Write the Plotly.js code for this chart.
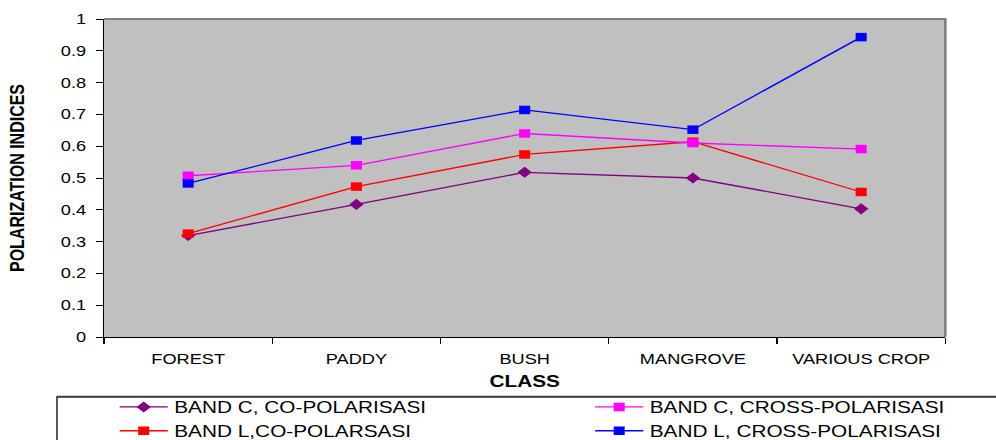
<!DOCTYPE html>
<html>
<head>
<meta charset="utf-8">
<script src="https://cdn.plot.ly/plotly-3.0.1.min.js"></script>
<style>
  html, body { margin: 0; padding: 0; background: #ffffff; overflow: hidden; }
  /* the chart is laid out narrow and widened horizontally */
  #chart { width: 766px; height: 440px; transform: scaleX(1.30026); transform-origin: 0 0; }
</style>
</head>
<body>
<div id="chart"></div>
<script>
// Land-cover classes along the x axis
const classes = ["FOREST", "PADDY", "BUSH", "MANGROVE", "VARIOUS CROP"];

// Polarization indices per band / polarization
const bandCCo    = [0.319, 0.417, 0.518, 0.500, 0.403];
const bandCCross = [0.507, 0.540, 0.640, 0.610, 0.591];
const bandLCo    = [0.325, 0.473, 0.574, 0.614, 0.456];
const bandLCross = [0.483, 0.618, 0.714, 0.652, 0.943];

const seriesNames = [
  "BAND C, CO-POLARISASI",
  "BAND L,CO-POLARSASI",
  "BAND C, CROSS-POLARISASI",
  "BAND L, CROSS-POLARISASI"
];

const yTicks = [0, 0.1, 0.2, 0.3, 0.4, 0.5, 0.6, 0.7, 0.8, 0.9, 1];
const yTickText = ["0", "0.1", "0.2", "0.3", "0.4", "0.5", "0.6", "0.7", "0.8", "0.9", "1"];

function series(name, values, color, symbol, size, legendId) {
  return {
    type: "scatter",
    mode: "lines+markers",
    name: name,
    legend: legendId,
    x: classes,
    y: values,
    line: { color: color, width: 1.3 },
    marker: { color: color, symbol: symbol, size: size, line: { width: 0 } },
    cliponaxis: false
  };
}

const traces = [
  series(seriesNames[0], bandCCo, "#800080", "diamond", 8.5, "legend"),
  series(seriesNames[1], bandLCo, "#ff0000", "square", 8.5, "legend"),
  series(seriesNames[2], bandCCross, "#ff00ff", "square", 8.5, "legend2"),
  series(seriesNames[3], bandLCross, "#0000ff", "square", 8.5, "legend2")
];

const font = "Arial, 'Liberation Sans', sans-serif";

// each legend column is a horizontal legend whose wide entries wrap one per row
function legendBox(x, entryWidth) {
  return {
    orientation: "h",
    xref: "container",
    yref: "container",
    x: x,
    xanchor: "left",
    y: 0.1135,
    yanchor: "top",
    itemwidth: 37,
    entrywidth: entryWidth,
    entrywidthmode: "pixels",
    bgcolor: "rgba(0,0,0,0)",
    borderwidth: 0,
    font: { family: font, size: 16, color: "#000000" },
    tracegroupgap: 0
  };
}

const layout = {
  width: 766,
  height: 440,
  margin: { l: 80, r: 39, t: 19, b: 103 },
  paper_bgcolor: "#ffffff",
  plot_bgcolor: "#c0c0c0",
  font: { family: font, color: "#000000", size: 14 },
  showlegend: true,
  legend: legendBox(0.1136, 330),
  legend2: legendBox(0.591, 340),
  xaxis: {
    type: "category",
    range: [-0.5, 4.5],
    automargin: false,
    tickangle: 0,
    showgrid: false,
    zeroline: false,
    showline: true,
    linecolor: "#000000",
    linewidth: 1,
    ticks: "outside",
    tickson: "boundaries",
    ticklen: 6,
    tickcolor: "#000000",
    ticklabelstandoff: 9,
    tickfont: { family: font, size: 14 },
    title: { text: "<b>CLASS</b>", font: { family: font, size: 16 }, standoff: 10 },
    fixedrange: true
  },
  yaxis: {
    range: [0, 1],
    automargin: false,
    tickmode: "array",
    tickvals: yTicks,
    ticktext: yTickText,
    showgrid: false,
    zeroline: false,
    showline: true,
    linecolor: "#000000",
    linewidth: 1,
    ticks: "outside",
    ticklen: 5,
    tickcolor: "#000000",
    ticklabelstandoff: 5,
    tickfont: { family: font, size: 14 },
    title: { text: "<b>POLARIZATION INDICES</b>", font: { family: font, size: 16 }, standoff: 23 },
    fixedrange: true
  },
  shapes: [
    // gray frame on the top and right of the plot area
    {
      type: "path", xref: "paper", yref: "paper",
      path: "M 0,1 L 1,1 L 1,0",
      line: { color: "#808080", width: 2 },
      layer: "above"
    },
    // legend box running off the right edge
    {
      type: "rect", xref: "paper", yref: "paper",
      x0: -0.0559, x1: 1.2, y0: -0.1875, y1: -0.36,
      line: { color: "#000000", width: 1 },
      fillcolor: "rgba(0,0,0,0)",
      layer: "above"
    },
    {
      type: "line", xref: "paper", yref: "paper",
      x0: -0.0559, x1: 1.2, y0: -0.1875, y1: -0.1875,
      line: { color: "#404040", width: 2 }
    }
  ]
};

Plotly.newPlot("chart", traces, layout, { displayModeBar: false, staticPlot: true });
</script>
</body>
</html>
